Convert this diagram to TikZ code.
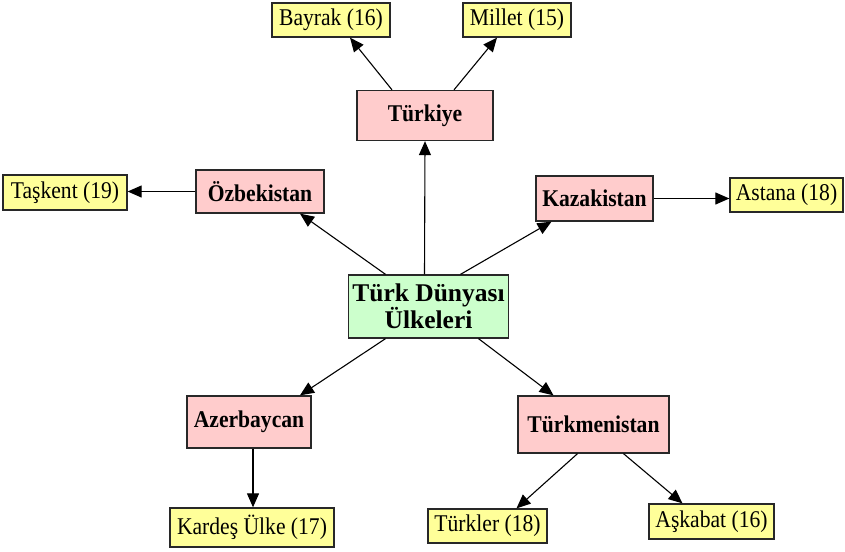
\documentclass[tikz,border=0pt]{standalone}
\usepackage{fontspec}
\setmainfont{Liberation Serif}[FakeStretch=0.9]
\newfontfamily\hubfont{Liberation Serif}
\usetikzlibrary{arrows.meta}
\definecolor{pinkf}{RGB}{255,204,204}
\definecolor{yellowf}{RGB}{255,255,153}
\definecolor{greenf}{RGB}{204,255,204}
\definecolor{edgec}{RGB}{40,40,40}
\tikzset{
  base/.style={draw=edgec, line width=1.3pt, inner sep=0pt, align=center},
  country/.style={base, fill=pinkf, font=\fontsize{24}{26}\selectfont\bfseries},
  leaf/.style={base, fill=yellowf, font=\fontsize{24}{26}\selectfont},
  hub/.style={base, fill=greenf, font=\hubfont\fontsize{25.5}{27}\selectfont\bfseries},
  conn/.style={draw=black, line width=1.1pt, -{Triangle[length=14pt,width=12pt]}}
}
\begin{document}
\begin{tikzpicture}[x=1pt,y=-1pt]
\useasboundingbox (0,0) rectangle (845,551);
\node[hub, minimum width=160pt, minimum height=63pt] (c) at (428.5,306.5) {Türk Dünyası\\Ülkeleri};
\node[country, minimum width=136pt, minimum height=50pt] (tur) at (425,115.5) {Türkiye};
\node[country, minimum width=128pt, minimum height=43pt] (ozb) at (260,191.5) {Özbekistan};
\node[country, minimum width=117pt, minimum height=45pt] (kaz) at (594.5,198.5) {Kazakistan};
\node[country, minimum width=124pt, minimum height=52pt] (aze) at (249,422) {Azerbaycan};
\node[country, minimum width=151pt, minimum height=57pt] (tkm) at (593.5,424.5) {Türkmenistan};
\node[leaf, minimum width=118pt, minimum height=34pt] (bay) at (331,20) {Bayrak (16)};
\node[leaf, minimum width=108pt, minimum height=34pt] (mil) at (517,20) {Millet (15)};
\node[leaf, minimum width=124pt, minimum height=35pt] (tas) at (65,192.5) {Taşkent (19)};
\node[leaf, minimum width=113pt, minimum height=34pt] (ast) at (786.5,195) {Astana (18)};
\node[leaf, minimum width=164pt, minimum height=39pt] (kar) at (252,527.5) {Kardeş Ülke (17)};
\node[leaf, minimum width=119pt, minimum height=34pt] (tuk) at (487.5,526) {Türkler (18)};
\node[leaf, minimum width=125pt, minimum height=35pt] (ask) at (711.5,521.5) {Aşkabat (16)};
\draw[conn] ([xshift=-4pt]c.north) -- (tur.south);
\draw[conn] ([xshift=-43pt]c.north) -- ([xshift=40pt]ozb.south);
\draw[conn] ([xshift=32pt]c.north) -- ([xshift=-43pt]kaz.south);
\draw[conn] ([xshift=-43pt]c.south) -- ([xshift=51pt]aze.north);
\draw[conn] ([xshift=50pt]c.south) -- ([xshift=-40pt]tkm.north);
\draw[conn] ([xshift=-33pt]tur.north) -- ([xshift=19pt]bay.south);
\draw[conn] ([xshift=29pt]tur.north) -- ([xshift=-20pt]mil.south);
\draw[conn] (ozb.west) -- (ozb.west -| tas.east);
\draw[conn] (kaz.east) -- (kaz.east -| ast.west);
\draw[conn] ([xshift=4pt]aze.south) -- ([xshift=1pt]kar.north);
\draw[conn] ([xshift=-16pt]tkm.south) -- ([xshift=29pt]tuk.north);
\draw[conn] ([xshift=30pt]tkm.south) -- ([xshift=-29pt]ask.north);
\end{tikzpicture}
\end{document}
